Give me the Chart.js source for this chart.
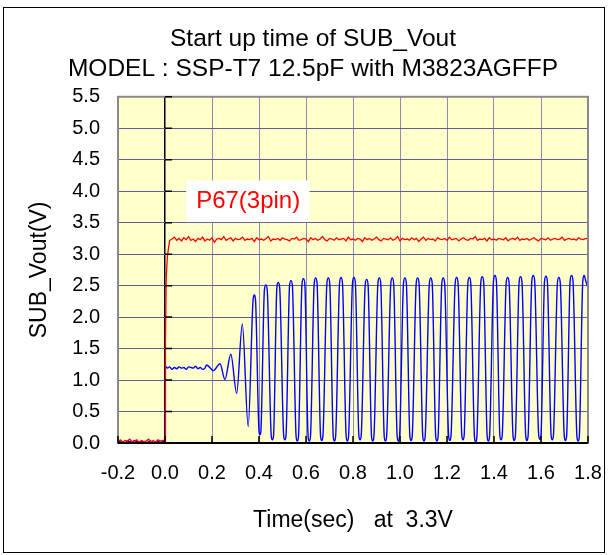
<!DOCTYPE html>
<html>
<head>
<meta charset="utf-8">
<script src="https://cdn.jsdelivr.net/npm/chart.js@4.4.1/dist/chart.umd.min.js"></script>
<style>
  html, body { margin: 0; padding: 0; background: #fff; }
  #wrap { width: 612px; height: 555px; }
</style>
</head>
<body>
<div id="wrap"><canvas id="chart" width="612" height="555"></canvas></div>
<script>
// axis ticks
const xTicks = [-0.2, 0.0, 0.2, 0.4, 0.6, 0.8, 1.0, 1.2, 1.4, 1.6, 1.8];
const yTicks = [0.0, 0.5, 1.0, 1.5, 2.0, 2.5, 3.0, 3.5, 4.0, 4.5, 5.0, 5.5];

const titleLines = ['Start up time of SUB_Vout', 'MODEL : SSP-T7 12.5pF with M3823AGFFP'];
const xTitle = 'Time(sec)   at  3.3V';
const yTitle = 'SUB_Vout(V)';
const redLabel = 'P67(3pin)';

// P67 (red) - noise before power on, sampled every 10 ms from -0.2 s
const redPre = [0.02, 0.05, 0.01, 0.04, 0.03, 0.06, 0.02, 0.03, 0.05, 0.01,
                0.04, 0.02, 0.03, 0.06, 0.02, 0.04, 0.01, 0.05, 0.03, 0.04];
// rise at power on
const redRiseTime = [0.000, 0.002, 0.005, 0.010, 0.015, 0.020];
const redRiseVolt = [0.04, 1.60, 2.60, 2.95, 3.10, 3.22];
// settled level, sampled every 10 ms from 0.03 s
const redFlat = [
  3.24,3.27,3.22,3.25,3.21,3.26,3.23,3.28,3.22,3.24,
  3.20,3.25,3.23,3.27,3.21,3.24,3.22,3.26,3.19,3.24,
  3.25,3.23,3.28,3.22,3.24,3.26,3.21,3.25,3.23,3.24,
  3.27,3.22,3.24,3.23,3.25,3.20,3.26,3.23,3.24,3.22,
  3.25,3.28,3.21,3.24,3.23,3.25,3.22,3.26,3.24,3.23,
  3.21,3.25,3.24,3.27,3.22,3.23,3.25,3.24,3.20,3.26,
  3.23,3.25,3.22,3.24,3.28,3.23,3.21,3.25,3.24,3.22,
  3.26,3.23,3.24,3.25,3.21,3.27,3.23,3.24,3.22,3.25,
  3.24,3.20,3.26,3.23,3.25,3.22,3.24,3.27,3.23,3.21,
  3.25,3.24,3.23,3.26,3.22,3.24,3.28,3.21,3.25,3.23,
  3.24,3.22,3.26,3.23,3.25,3.20,3.24,3.27,3.22,3.25,
  3.23,3.24,3.21,3.26,3.24,3.23,3.25,3.22,3.27,3.23,
  3.24,3.25,3.21,3.24,3.26,3.23,3.22,3.25,3.24,3.28,
  3.22,3.24,3.23,3.25,3.21,3.26,3.23,3.24,3.22,3.25,
  3.24,3.23,3.26,3.21,3.24,3.25,3.23,3.27,3.22,3.24,
  3.23,3.25,3.22,3.24,3.26,3.23,3.21,3.25,3.24,3.23,
  3.26,3.22,3.24,3.25,3.23,3.24,3.27,3.22,3.24,3.25,
  3.23,3.24,3.22,3.26,3.24,3.23,3.25,3.24];

// SUB_Vout (blue) - before power on, every 10 ms from -0.2 s
const bluePre = [0.01, 0.03, 0.02, 0.00, 0.03, 0.02, 0.01, 0.04, 0.02, 0.01,
                 0.03, 0.02, 0.00, 0.02, 0.03, 0.01, 0.02, 0.03, 0.01, 0.02];
// jump, then ~1.2V plateau every 10 ms from 0.01 s
const blueJumpTime = [0.000, 0.002];
const blueJumpVolt = [0.02, 1.22];
const blueFlat = [1.19, 1.21, 1.17, 1.20, 1.18, 1.21, 1.19, 1.20, 1.17, 1.21,
                  1.20, 1.19, 1.22, 1.18, 1.20, 1.17, 1.19];
// oscillation start-up, [time, volt] (edges of each peak/trough)
const blueOsc = [
  [0.177,1.24],[0.206,1.15],[0.234,1.26],[0.255,1.01],[0.280,1.41],[0.305,0.79],
  [0.329,1.89],[0.354,0.26],
  [0.375,2.28],[0.380,2.35],[0.385,2.28], [0.400,0.19],[0.404,0.13],[0.408,0.19],
  [0.423,2.43],[0.429,2.51],[0.435,2.43], [0.452,0.12],[0.457,0.05],[0.462,0.12],
  [0.476,2.47],[0.482,2.55],[0.488,2.47], [0.505,0.12],[0.510,0.05],[0.515,0.12],
  [0.530,2.50],[0.536,2.58],[0.542,2.50], [0.558,0.10],[0.563,0.03],[0.568,0.10],
  [0.583,2.53],[0.589,2.61],[0.595,2.53], [0.609,0.10],[0.614,0.03],[0.619,0.10],
  [0.635,2.54],[0.641,2.62],[0.647,2.54], [0.662,0.11],[0.667,0.04],[0.672,0.11],
  [0.689,2.54],[0.695,2.62],[0.701,2.54], [0.716,0.10],[0.721,0.03],[0.726,0.10],
  [0.743,2.55],[0.749,2.63],[0.755,2.55], [0.771,0.10],[0.776,0.03],[0.781,0.10],
  [0.798,2.55],[0.804,2.63],[0.810,2.55], [0.825,0.12],[0.830,0.05],[0.835,0.12],
  [0.852,2.52],[0.858,2.60],[0.864,2.52], [0.879,0.10],[0.884,0.03],[0.889,0.10],
  [0.906,2.54],[0.912,2.62],[0.918,2.54], [0.933,0.10],[0.938,0.03],[0.943,0.10],
  [0.961,2.54],[0.967,2.62],[0.973,2.54], [0.988,0.10],[0.993,0.03],[0.998,0.10],
  [1.015,2.54],[1.021,2.62],[1.027,2.54], [1.042,0.11],[1.047,0.04],[1.052,0.11],
  [1.069,2.54],[1.075,2.62],[1.081,2.54], [1.097,0.10],[1.102,0.03],[1.107,0.10],
  [1.125,2.54],[1.131,2.62],[1.137,2.54], [1.152,0.10],[1.157,0.03],[1.162,0.10],
  [1.178,2.54],[1.184,2.62],[1.190,2.54], [1.207,0.11],[1.212,0.04],[1.217,0.11],
  [1.235,2.55],[1.241,2.63],[1.247,2.55], [1.263,0.12],[1.268,0.05],[1.273,0.12],
  [1.289,2.55],[1.295,2.63],[1.301,2.55], [1.317,0.09],[1.322,0.02],[1.327,0.09],
  [1.344,2.56],[1.350,2.64],[1.356,2.56], [1.371,0.10],[1.376,0.03],[1.381,0.10],
  [1.398,2.58],[1.404,2.66],[1.410,2.58], [1.425,0.12],[1.430,0.05],[1.435,0.12],
  [1.452,2.55],[1.458,2.63],[1.464,2.55], [1.481,0.11],[1.486,0.04],[1.491,0.11],
  [1.507,2.56],[1.513,2.64],[1.519,2.56], [1.535,0.11],[1.540,0.04],[1.545,0.11],
  [1.561,2.58],[1.567,2.66],[1.573,2.58], [1.590,0.13],[1.595,0.06],[1.600,0.13],
  [1.615,2.57],[1.621,2.65],[1.627,2.57], [1.643,0.12],[1.648,0.05],[1.653,0.12],
  [1.670,2.55],[1.676,2.63],[1.682,2.55], [1.699,0.11],[1.704,0.04],[1.709,0.11],
  [1.724,2.58],[1.730,2.66],[1.736,2.58], [1.753,0.10],[1.758,0.03],[1.763,0.10],
  [1.778,2.58],[1.784,2.66],[1.790,2.58], [1.800,2.46]
];

function sampled(start, step, values) {
  return values.map((v, i) => ({ x: +(start + i * step).toFixed(3), y: v }));
}
function paired(times, values) {
  return times.map((t, i) => ({ x: t, y: values[i] }));
}

const redData = [].concat(
  sampled(-0.2, 0.01, redPre),
  paired(redRiseTime, redRiseVolt),
  sampled(0.03, 0.01, redFlat)
);
const blueData = [].concat(
  sampled(-0.2, 0.01, bluePre),
  paired(blueJumpTime, blueJumpVolt),
  sampled(0.01, 0.01, blueFlat),
  blueOsc.map(p => ({ x: p[0], y: p[1] }))
);

const FONT = "'Liberation Sans', Arial, sans-serif";
Chart.defaults.font.family = FONT;
Chart.defaults.color = '#000';

// background, frame, inner ticks and the P67 label
const plotDecor = {
  id: 'plotDecor',
  beforeDraw(chart) {
    const { ctx, chartArea: a } = chart;
    ctx.save();
    ctx.fillStyle = '#fff';
    ctx.fillRect(0, 0, chart.width, chart.height);
    ctx.fillStyle = '#ffffcc';
    ctx.fillRect(a.left, a.top, a.right - a.left, a.bottom - a.top);
    ctx.strokeStyle = '#000';
    ctx.lineWidth = 1;
    ctx.strokeRect(3.5, 7.5, 601, 545);
    ctx.restore();
  },
  afterDatasetsDraw(chart) {
    const { ctx, chartArea: a, scales } = chart;
    const xs = scales.x, ys = scales.y;
    ctx.save();
    // gray plot frame
    ctx.strokeStyle = '#8a8a8a';
    ctx.lineWidth = 2;
    ctx.strokeRect(a.left, a.top, a.right - a.left, a.bottom - a.top);
    // black bottom axis
    ctx.strokeStyle = '#000';
    ctx.lineWidth = 2;
    ctx.beginPath();
    ctx.moveTo(a.left, a.bottom);
    ctx.lineTo(a.right, a.bottom);
    ctx.stroke();
    // inner tick marks
    ctx.lineWidth = 1.5;
    const x0 = xs.getPixelForValue(0);
    ctx.beginPath();
    yTicks.forEach(v => {
      const y = ys.getPixelForValue(v);
      ctx.moveTo(x0, y);
      ctx.lineTo(x0 + 7, y);
    });
    xTicks.forEach(v => {
      const x = xs.getPixelForValue(v);
      ctx.moveTo(x, a.bottom);
      ctx.lineTo(x, a.bottom - 7);
    });
    ctx.stroke();
    // P67 label box
    const bx0 = xs.getPixelForValue(0.09), bx1 = xs.getPixelForValue(0.615);
    const by0 = ys.getPixelForValue(4.17), by1 = ys.getPixelForValue(3.51);
    ctx.fillStyle = '#fff';
    ctx.fillRect(bx0, by0, bx1 - bx0, by1 - by0);
    ctx.fillStyle = '#ff0000';
    ctx.font = '24px ' + FONT;
    ctx.textAlign = 'left';
    ctx.textBaseline = 'middle';
    ctx.fillText(redLabel, bx0 + 10, (by0 + by1) / 2);
    ctx.restore();
  }
};

new Chart(document.getElementById('chart'), {
  type: 'line',
  data: {
    datasets: [
      {
        label: redLabel,
        data: redData,
        borderColor: '#ff0000',
        borderWidth: 1.3,
        pointRadius: 0,
        tension: 0,
        fill: false
      },
      {
        label: 'SUB_Vout',
        data: blueData,
        borderColor: '#0000ff',
        borderWidth: 1.4,
        pointRadius: 0,
        cubicInterpolationMode: 'monotone',
        fill: false
      }
    ]
  },
  options: {
    responsive: false,
    animation: false,
    devicePixelRatio: 1,
    layout: { padding: { left: 14, right: 0, top: 0, bottom: 0 } },
    plugins: {
      legend: { display: false },
      tooltip: { enabled: false },
      title: {
        display: true,
        text: titleLines,
        color: '#000',
        font: { size: 24.5, weight: 'normal', lineHeight: 1.22 },
        padding: { top: 24, bottom: 13 }
      }
    },
    scales: {
      x: {
        type: 'linear',
        min: -0.2,
        max: 1.8,
        afterBuildTicks: s => { s.ticks = xTicks.map(v => ({ value: v })); },
        afterFit: s => { s.height = 112; s.paddingLeft = 0; s.paddingRight = 24; },
        ticks: {
          font: { size: 20 },
          color: '#000',
          padding: 18,
          maxRotation: 0,
          autoSkip: false,
          callback: v => Number(v).toFixed(1)
        },
        grid: {
          drawTicks: false,
          color: c => (c.tick && c.tick.value === 0 ? '#000' : '#8c8cb4'),
          lineWidth: c => (c.tick && c.tick.value === 0 ? 1.5 : 1)
        },
        border: { display: false },
        title: {
          display: true,
          text: xTitle,
          font: { size: 23 },
          color: '#000',
          padding: { top: 0, bottom: 21 }
        }
      },
      y: {
        type: 'linear',
        min: 0,
        max: 5.5,
        afterBuildTicks: s => { s.ticks = yTicks.map(v => ({ value: v })); },
        afterFit: s => { s.width = 104; },
        ticks: {
          font: { size: 20 },
          color: '#000',
          padding: 18,
          autoSkip: false,
          callback: v => Number(v).toFixed(1)
        },
        grid: {
          drawTicks: false,
          color: '#60608f',
          lineWidth: 1
        },
        border: { display: false },
        title: {
          display: true,
          text: yTitle,
          font: { size: 23 },
          color: '#000',
          padding: { top: 12, bottom: 0 }
        }
      }
    }
  },
  plugins: [plotDecor]
});
</script>
</body>
</html>
